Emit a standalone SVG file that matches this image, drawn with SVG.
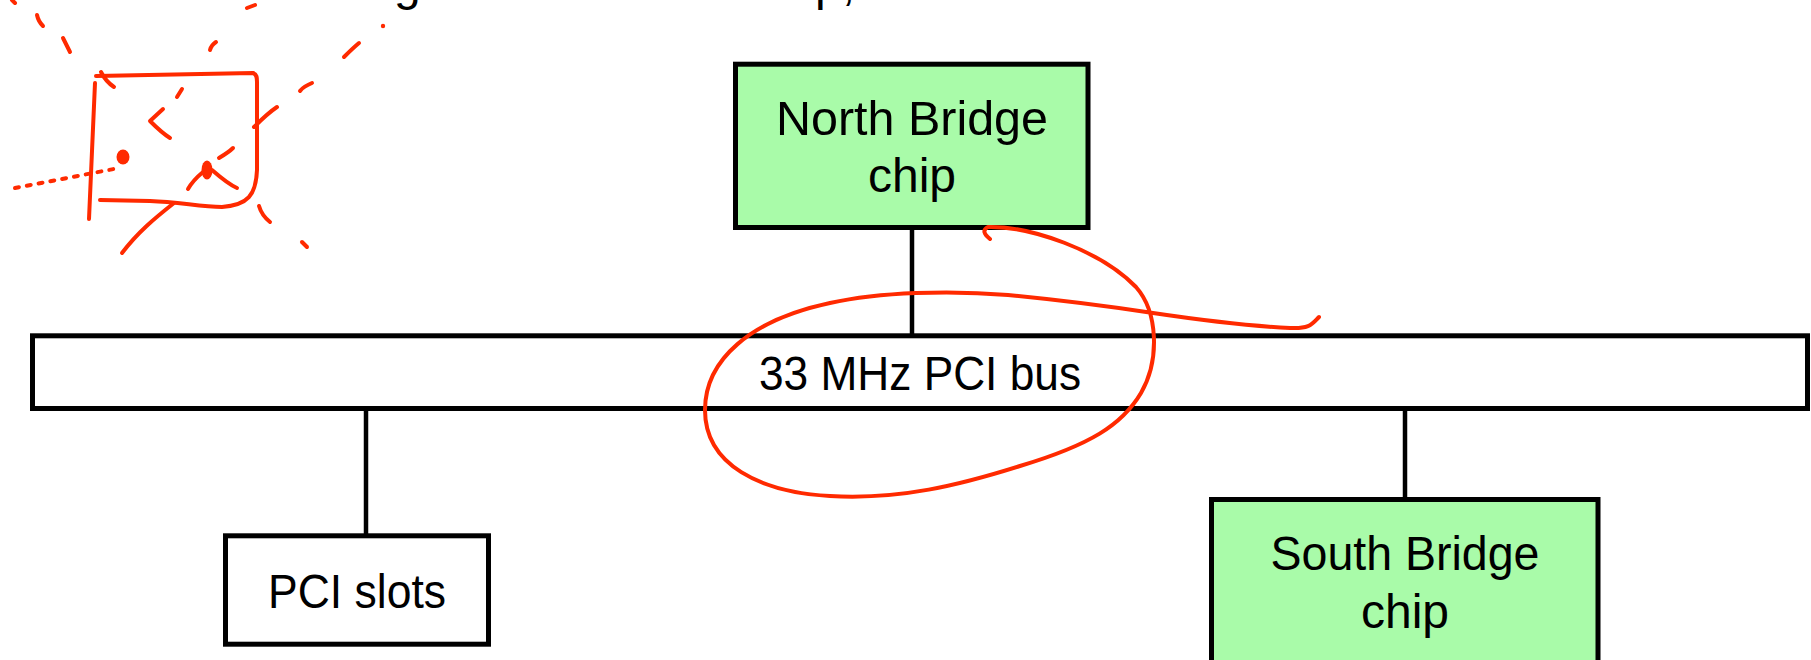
<svg xmlns="http://www.w3.org/2000/svg" width="1811" height="660" viewBox="0 0 1811 660">
<style>
.box{stroke:#000;stroke-width:5}
.chip{fill:#a9fba9}
.plain{fill:#fff}
.lbl{font-family:"Liberation Sans",Arial,sans-serif;font-size:48px;fill:#000;text-anchor:middle}
.conn{stroke:#000;stroke-width:4.5;fill:none}
.ink{stroke:#ff2a00;stroke-width:4;fill:none;stroke-linecap:round;stroke-linejoin:round}
.inkdot{fill:#ff2a00}
</style>
<rect width="1811" height="660" fill="#fff"/>
<g id="cut-text">
<text class="lbl" x="394" y="0" style="text-anchor:start">g</text>
<text class="lbl" x="815" y="0" style="text-anchor:start">p,</text>
</g>
<g id="connectors">
<line class="conn" x1="912" y1="229" x2="912" y2="336"/>
<line class="conn" x1="366" y1="410" x2="366" y2="536"/>
<line class="conn" x1="1405" y1="410" x2="1405" y2="499"/>
</g>
<g id="north-bridge">
<rect class="box chip" x="735.5" y="64.2" width="352.5" height="163.3"/>
<text class="lbl" x="912" y="135" textLength="272" lengthAdjust="spacingAndGlyphs">North Bridge</text>
<text class="lbl" x="912" y="192">chip</text>
</g>
<g id="pci-bus">
<rect class="box plain" x="32.5" y="335.8" width="1775" height="72.7"/>
<text class="lbl" x="920" y="390" textLength="322" lengthAdjust="spacingAndGlyphs">33 MHz PCI bus</text>
</g>
<g id="pci-slots">
<rect class="box plain" x="225.5" y="535.8" width="263" height="108.4"/>
<text class="lbl" x="357" y="608" textLength="178" lengthAdjust="spacingAndGlyphs">PCI slots</text>
</g>
<g id="south-bridge">
<rect class="box chip" x="1211.5" y="499.5" width="386.5" height="200"/>
<text class="lbl" x="1405" y="570" textLength="269" lengthAdjust="spacingAndGlyphs">South Bridge</text>
<text class="lbl" x="1405" y="628">chip</text>
</g>
<g id="annotations">
<path class="ink" d="M990,239 C984,234 982,230 988,227 C1030,226 1100,250 1136,287 C1158,312 1160,360 1141,393 C1122,425 1090,445 1020,466 C960,485 900,500 830,496 C760,492 705,465 705,410 C705,360 750,320 830,303 C880,292 950,290 1008,295 C1060,300 1120,308 1153,313 C1200,320 1250,326 1290,328 C1310,329 1312,324 1319,317"/>
<path class="ink" d="M96,76 L253,73 C257,74 257,78 257,82 L257,170 C256,195 248,205 222,207 C200,207 180,202 150,201 L100,200"/>
<path class="ink" d="M95,83 L89,219"/>
<path class="ink" d="M101,72 C104,78 108,83 114,87"/>
<path class="ink" d="M12,0 L15,3"/>
<path class="ink" d="M37,15 C38,20 40,23 43,26"/>
<path class="ink" d="M63,38 L70,52"/>
<path class="ink" d="M247,8 L255,5"/>
<path class="ink" d="M210,50 C211,46 213,44 216,42"/>
<circle class="inkdot" cx="383" cy="26" r="2.2"/>
<path class="ink" d="M344,57 C349,52 353,48 359,43"/>
<path class="ink" d="M300,91 C303,87 307,85 312,83"/>
<path class="ink" d="M254,127 C261,120 268,113 277,107"/>
<path class="ink" d="M177,97 L182,89"/>
<path class="ink" d="M163,109 L150,121 C156,127 162,133 170,138"/>
<ellipse class="inkdot" cx="123" cy="157" rx="6.5" ry="7.5"/>
<path class="ink" d="M15,188 L119,168" stroke-dasharray="4 8"/>
<path class="ink" d="M219,158 C224,155 229,152 233,148"/>
<ellipse class="inkdot" cx="207" cy="170" rx="5.5" ry="9.5"/>
<path class="ink" d="M188,189 C192,182 197,177 203,172"/>
<path class="ink" d="M212,170 C220,177 228,184 237,188"/>
<path class="ink" d="M122,253 C138,232 155,218 174,203"/>
<path class="ink" d="M259,206 C261,213 265,218 270,222"/>
<path class="ink" d="M302,242 L307,247"/>
</g>
</svg>
